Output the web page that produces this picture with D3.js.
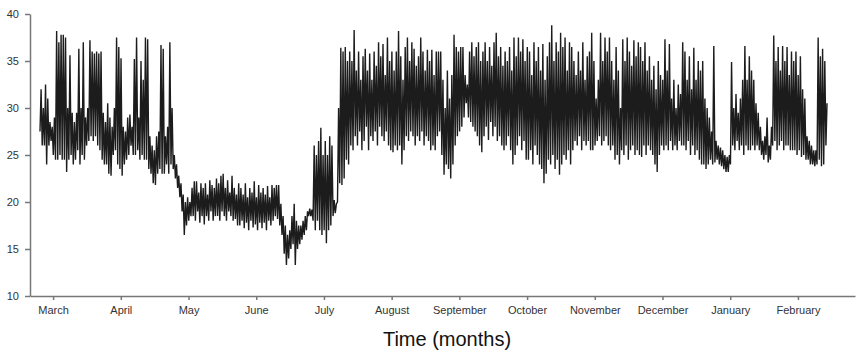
<!DOCTYPE html>
<html>
<head>
<meta charset="utf-8">
<script src="https://cdn.jsdelivr.net/npm/d3@7"></script>
<style>
  body { margin: 0; background: #fff; }
  svg { display: block; }
  .axis text { font-family: "Liberation Sans", Arial, sans-serif; font-size: 11px; fill: #333; }
  .axis path, .axis line { stroke: #777; stroke-width: 1.5; }
</style>
</head>
<body>
<svg width="860" height="352"></svg>
<script>
// daily minimum and maximum readings, day 0 = late February
const tempLow = [
  27.5, 26, 26, 24, 26, 26.5, 25, 24.5, 24.5, 25,
  24.5, 24.5, 23.2, 24.5, 25, 24, 24.5, 25.5, 24, 25,
  24.5, 26, 26.5, 27, 26.5, 27, 26, 25.5, 24.5, 24,
  24, 23, 22.8, 25, 25.5, 24, 23.5, 22.8, 24, 24.5,
  25, 26, 25, 25, 25.5, 24.5, 25, 24.5, 24.5, 23.5,
  23, 22, 21.8, 23, 23.5, 23, 23, 24, 23, 24,
  23.5, 22.5, 21.5, 20.5, 19, 16.5, 17.5, 18, 18.5, 18.5,
  18, 19, 17.8, 18.5, 17.6, 18.5, 18, 19, 18, 18.5,
  18.5, 18, 19, 18.5, 18, 19, 18.5, 18, 18.2, 17.5,
  17.5, 18, 17.2, 17.8, 17, 18, 17.3, 17.6, 17, 17.8,
  17.2, 17.8, 17, 18, 17.5, 18, 18.5, 18.2, 17.5, 16.5,
  14.5, 13.3, 14, 15, 15.5, 13.3, 15, 15.5, 16, 16.5,
  17, 18.5, 18.5, 18, 17, 18, 17, 16.5, 17, 15.6,
  17, 17.5, 18.5, 18.8, 20, 22, 21.8, 22.5, 24.5, 24,
  26, 25.5, 27, 26, 27.5, 25.5, 26.5, 28, 25.5, 27,
  26.5, 27.5, 26, 28, 27, 26.5, 27.5, 26, 25.5, 25.3,
  26, 25.5, 26, 24, 25.5, 27, 26.5, 27.5, 27, 26,
  27, 26.5, 27.5, 26, 27, 26.5, 25.5, 26, 25.5, 27,
  27.5, 25, 22.9, 24, 23.5, 22.5, 24, 26, 27, 27.5,
  28, 29, 30.5, 29, 28.5, 28, 27.5, 27, 26, 25.3,
  27, 28, 26.6, 28.5, 27, 28, 26.5, 27, 26, 25.5,
  26, 27, 25.5, 24, 25, 26, 27, 25.5, 26.5, 24.5,
  24.5, 25.5, 24, 26, 25, 24, 23.5, 22, 23, 24.5,
  24, 25, 23.5, 24.5, 22.9, 24, 25, 24.5, 25.5, 24,
  25.5, 26.5, 26, 27, 25.5, 26.5, 26, 26.5, 25.5, 25.5,
  26, 26.5, 27, 26, 26.5, 27, 26, 25.5, 26, 24.5,
  25, 24, 25.5, 25, 26, 24.5, 25.5, 26, 25, 25.5,
  25, 24.8, 26, 25, 26, 25.5, 25, 24, 23.2, 25,
  26, 25.5, 26, 25.5, 26.5, 25.5, 26, 25.5, 26.5, 26,
  26, 25.5, 26.5, 25, 26, 25, 25.5, 24.5, 24, 24,
  23.5, 24, 24.5, 24, 24.2, 24.5, 24, 23.8, 23.5, 23.2,
  23.2, 24, 26, 25.5, 26.5, 25.5, 26, 25, 26, 25.5,
  25.5, 26, 25.5, 26, 25.5, 25, 24.5, 25, 24.2, 24.5,
  26, 26.5, 25.5, 26, 26.5, 25.5, 26, 26, 25.5, 25.5,
  25.5, 25, 25.5, 24.8, 25, 24.5, 24.5, 24, 24, 23.8,
  24, 24.5, 23.8, 24, 26
];
const tempHigh = [
  32, 30, 32.5, 31, 28.5, 28, 29, 38.2, 37, 37.8,
  37.8, 37.5, 30, 35.6, 29.5, 28.5, 29.5, 36.3, 30, 37,
  29, 30, 37.2, 36, 35.8, 36, 35.8, 36, 29.5, 28.5,
  30.5, 29, 28, 30, 37.5, 36.5, 35.3, 28, 27.5, 29,
  29.3, 28, 35.2, 37.5, 29, 35, 33, 37.5, 37.3, 27,
  26, 25.5, 27, 27.5, 36.7, 36.3, 27, 28, 37, 30,
  25, 24, 22.8, 22, 20.8, 20, 20.5, 20, 21.5, 22.2,
  22.2, 21, 22, 21.5, 22, 20.8, 22.3, 21.8, 21.5, 22.5,
  22, 22.8, 23, 21.5, 22.3, 21, 22.8, 21.5, 20.8, 22,
  21.5, 20.8, 22, 20.5, 21.5, 21, 22.2, 20.5, 21.8, 21,
  21.5, 20.8, 21.7, 20.5, 21.8, 21.5, 21.8, 21.8, 19.8, 18.5,
  17.5, 16.5, 17, 18.5, 19.8, 18, 17.5, 17.5, 18, 18.5,
  19, 19.3, 19.2, 26, 25, 26.5, 27.9, 25, 26.5, 25,
  27, 26, 20.2, 19.8, 30, 36.4, 36, 36.5, 35, 36,
  35, 38.3, 34, 36, 33, 35.5, 36.3, 34, 35.8, 33,
  36, 34.5, 37, 35.5, 36.8, 33.5, 37.5, 35, 36, 34,
  36, 38.2, 35.5, 33, 36.5, 37.5, 35, 37, 36.3, 34.5,
  35.5, 37.5, 36, 34, 36.2, 35, 36.2, 33.5, 36, 36,
  36, 33, 30, 34, 31, 33.5, 37.8, 36.5, 36, 36.5,
  36.5, 33.5, 32.5, 36, 37, 35.5, 36.5, 37, 35, 36,
  37, 35, 36.5, 34.5, 37, 38, 35.5, 36.5, 34.5, 36,
  35, 36.5, 34, 37.5, 35.5, 37.5, 36, 37.3, 35, 36.5,
  36, 33.5, 37, 35, 36.5, 34, 36.8, 33, 35.5, 37,
  38.8, 35, 37, 36, 38, 36.5, 37.5, 34, 37, 36.5,
  35, 33.5, 36, 34, 37, 33, 35.5, 36, 38, 35,
  31, 33, 38, 35, 37.5, 36, 37.5, 35, 33, 36.5,
  34, 30, 37.3, 35, 37.5, 36, 34.5, 37.2, 35.5, 37,
  36.5, 35, 37, 34, 35.5, 33, 34.5, 32, 35, 33.5,
  33, 37.3, 34, 36.8, 31, 33, 30, 32.5, 31.5, 37,
  36, 33, 35.5, 32, 36.4, 33, 35, 34, 35, 31,
  30, 29, 27.5, 36.6, 26.5, 26, 25.8, 25.5, 25, 24.8,
  25, 34.9, 30, 31.5, 29.5, 31, 33, 36.6, 33, 35.5,
  34, 33, 30.5, 29.5, 28, 26.5, 27, 29, 26, 28,
  37.7, 35, 36.5, 34, 36.6, 35, 36.5, 33.5, 36, 35,
  36, 33.5, 35.5, 32, 31, 27, 26.5, 26, 25.5, 25.5,
  37.5, 35.5, 36.3, 35, 30.5
];
const monthNames = ['March', 'April', 'May', 'June', 'July', 'August', 'September',
  'October', 'November', 'December', 'January', 'February'];
const monthTickDays = [5.9, 36.4, 66.9, 97.4, 127.9, 158.4, 188.9, 219.4, 249.9, 280.4, 310.9, 341.4];
const yTicks = [10, 15, 20, 25, 30, 35, 40];

const svg = d3.select('svg');

const x = d3.scaleLinear()
  .domain([-4.5, 367.1])
  .range([30, 855]);

const y = d3.scaleLinear()
  .domain([10, 40])
  .range([296, 14]);

// zigzag between daily low and high
const points = [];
tempLow.forEach((lo, i) => {
  points.push([i, lo]);
  points.push([i + 0.5, tempHigh[i]]);
});

const line = d3.line()
  .x(d => x(d[0]))
  .y(d => y(d[1]));

svg.append('path')
  .datum(points)
  .attr('fill', 'none')
  .attr('stroke', '#1c1c1c')
  .attr('stroke-width', 1.4)
  .attr('stroke-linejoin', 'bevel')
  .attr('d', line);

svg.append('g')
  .attr('class', 'axis')
  .attr('transform', 'translate(0,296)')
  .call(d3.axisBottom(x)
    .tickValues(monthTickDays)
    .tickFormat((d, i) => monthNames[i])
    .tickSize(4)
    .tickSizeOuter(0)
    .tickPadding(6));

svg.append('g')
  .attr('class', 'axis')
  .attr('transform', 'translate(30,0)')
  .call(d3.axisLeft(y)
    .tickValues(yTicks)
    .tickSize(5)
    .tickSizeOuter(0)
    .tickPadding(6));

svg.append('text')
  .attr('x', 447)
  .attr('y', 346)
  .attr('text-anchor', 'middle')
  .style('font-family', '"Liberation Sans", Arial, sans-serif')
  .style('font-size', '20px')
  .style('fill', '#111')
  .text('Time (months)');
</script>
</body>
</html>
